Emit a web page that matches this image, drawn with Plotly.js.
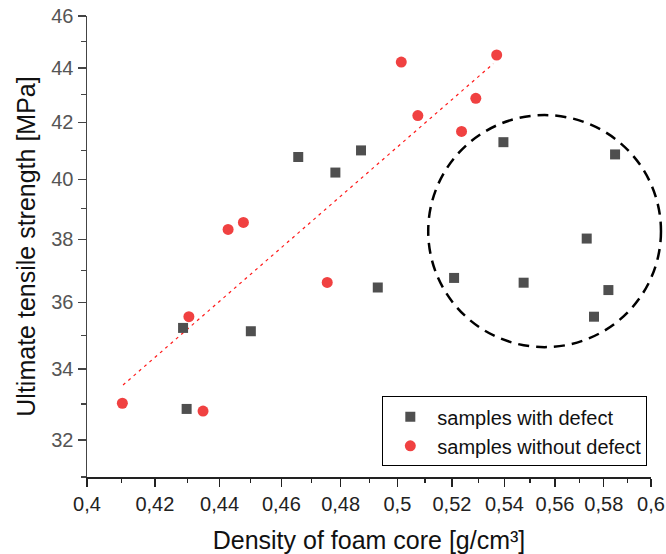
<!DOCTYPE html>
<html>
<head>
<meta charset="utf-8">
<script src="https://cdn.plot.ly/plotly-3.0.1.min.js"></script>
<style>
html,body{margin:0;padding:0;background:#fff;}
#chart{width:666px;height:554px;}
</style>
</head>
<body>
<div id="chart"></div>
<script>
// Samples with defect (grey squares)
const defectX = [0.4286, 0.4500, 0.4297, 0.4656, 0.4871, 0.4782, 0.4930, 0.5396, 0.5847, 0.5729, 0.5208, 0.5475, 0.5819, 0.5759];
const defectY = [35.22, 35.12, 32.86, 40.77, 41.00, 40.23, 36.46, 41.29, 40.86, 38.02, 36.76, 36.61, 36.38, 35.56];

// Samples without defect (red circles)
const okX = [0.4304, 0.4103, 0.4348, 0.4427, 0.4476, 0.4754, 0.5014, 0.5370, 0.5290, 0.5074, 0.5236];
const okY = [35.56, 33.02, 32.80, 38.32, 38.55, 36.62, 44.22, 44.49, 42.87, 42.24, 41.67];

// Trend line (fit through samples without defect)
const fitX = [0.4105, 0.5357];
const fitY = [33.54, 44.16];

// Tick values and labels
const xTickVals = [0.40, 0.42, 0.44, 0.46, 0.48, 0.50, 0.52, 0.54, 0.56, 0.58, 0.60];
const xTickText = ["0,4", "0,42", "0,44", "0,46", "0,48", "0,5", "0,52", "0,54", "0,56", "0,58", "0,6"];
const xMinorVals = [0.41, 0.43, 0.45, 0.47, 0.49, 0.51, 0.53, 0.55, 0.57, 0.59];
const yTickVals = [32, 34, 36, 38, 40, 42, 44, 46];
const yTickText = ["32", "34", "36", "38", "40", "42", "44", "46"];
const yMinorVals = [31, 33, 35, 37, 39, 41, 43, 45];

const FONT = "Liberation Sans, Arial, sans-serif";
const xRange = [Math.log10(0.4), Math.log10(0.6)];
const yRange = [Math.log10(31), Math.log10(46)];

const traces = [
  {
    x: fitX, y: fitY, mode: "lines", type: "scatter", showlegend: false,
    line: {color: "#ff1a1a", width: 1.2, dash: "3px,4px"}, hoverinfo: "skip"
  },
  {
    x: defectX, y: defectY, mode: "markers", type: "scatter",
    name: "samples with defect",
    marker: {symbol: "square", size: 10, color: "#4f4f4f", line: {width: 0}}
  },
  {
    x: okX, y: okY, mode: "markers", type: "scatter",
    name: "samples without defect",
    marker: {symbol: "circle", size: 11, color: "#f04141", line: {width: 0}}
  },
  {
    x: [], y: [], xaxis: "x2", yaxis: "y2", type: "scatter", mode: "markers",
    showlegend: false, hoverinfo: "skip"
  }
];

const layout = {
  width: 666, height: 554,
  margin: {l: 87, r: 15, t: 16, b: 77},
  paper_bgcolor: "#fff", plot_bgcolor: "#fff",
  font: {family: FONT, color: "#222", size: 20},
  xaxis: {
    type: "log", range: xRange,
    tickmode: "array", tickvals: xTickVals, ticktext: xTickText,
    ticks: "outside", ticklen: 8, tickwidth: 1.3, tickcolor: "#222",
    showline: true, linecolor: "#222", linewidth: 1.5,
    showgrid: false, zeroline: false,
    tickfont: {size: 20, color: "#222", family: FONT},
    title: {text: "Density of foam core [g/cm³]", font: {size: 25, color: "#111", family: FONT}, standoff: 19}
  },
  yaxis: {
    type: "log", range: yRange,
    tickmode: "array", tickvals: yTickVals, ticktext: yTickText,
    ticks: "outside", ticklen: 8, tickwidth: 1.3, tickcolor: "#444",
    showline: true, linecolor: "#444", linewidth: 1.5,
    showgrid: false, zeroline: false,
    tickfont: {size: 20, color: "#555", family: FONT},
    title: {text: "Ultimate tensile strength [MPa]", font: {size: 25, color: "#111", family: FONT}, standoff: 8}
  },
  xaxis2: {
    type: "log", range: xRange, overlaying: "x", anchor: "y", side: "bottom",
    tickmode: "array", tickvals: xMinorVals, showticklabels: false,
    ticks: "outside", ticklen: 5, tickwidth: 1.2, tickcolor: "#222",
    showline: false, showgrid: false, zeroline: false
  },
  yaxis2: {
    type: "log", range: yRange, overlaying: "y", anchor: "x", side: "left",
    tickmode: "array", tickvals: yMinorVals, showticklabels: false,
    ticks: "outside", ticklen: 5, tickwidth: 1.2, tickcolor: "#444",
    showline: false, showgrid: false, zeroline: false
  },
  legend: {
    x: 0.5236, y: 0.175, xanchor: "left", yanchor: "top",
    bordercolor: "#000", borderwidth: 1, bgcolor: "#fff",
    font: {size: 20, color: "#111", family: FONT},
    itemwidth: 44, tracegroupgap: 0
  },
  shapes: [
    {
      type: "circle", xref: "paper", yref: "paper",
      x0: 0.605, x1: 1.0177, y0: 0.2817, y1: 0.785,
      line: {color: "#000", width: 2.5, dash: "11px,7px"}
    }
  ]
};

Plotly.newPlot("chart", traces, layout, {staticPlot: true, displayModeBar: false});
</script>
</body>
</html>
